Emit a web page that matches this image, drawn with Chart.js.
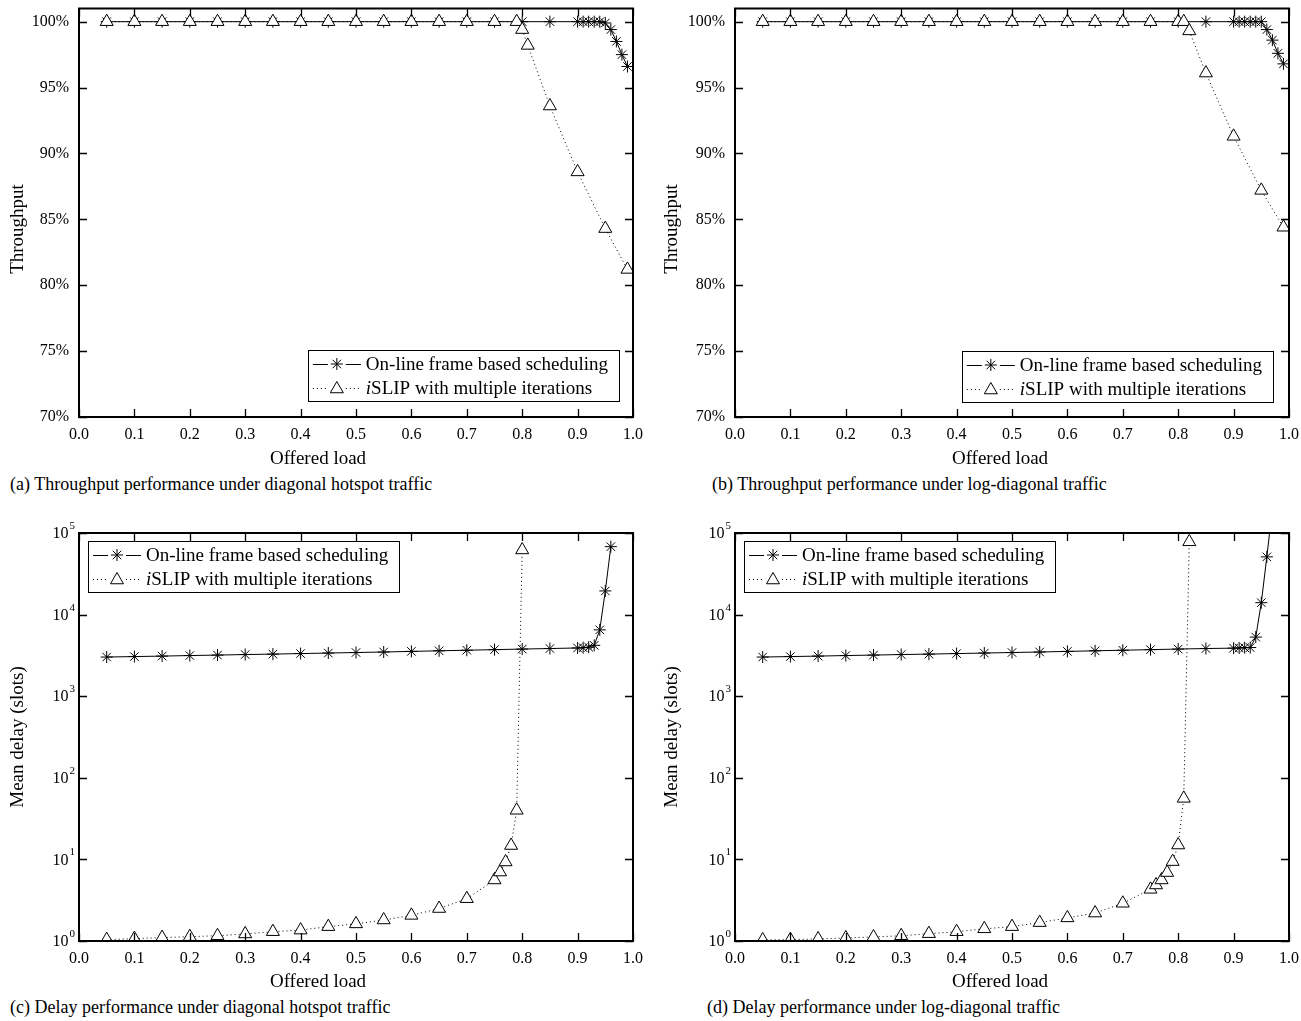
<!DOCTYPE html>
<html>
<head>
<meta charset="utf-8">
<script src="https://cdn.jsdelivr.net/npm/chart.js@4.4.1/dist/chart.umd.min.js"></script>
<style>
  html, body { margin: 0; padding: 0; background: #fff; }
  body { position: relative; width: 1301px; height: 1021px; overflow: hidden;
         font-family: "Liberation Serif", "Times New Roman", serif; color: #000; }
  canvas { position: absolute; }
  .cap { position: absolute; font-size: 18px; line-height: 22px; white-space: nowrap; }
</style>
</head>
<body>
<canvas id="pa" width="650" height="470" style="left:0;top:0"></canvas>
<canvas id="pb" width="645" height="470" style="left:656px;top:0"></canvas>
<canvas id="pc" width="650" height="494" style="left:0;top:500px"></canvas>
<canvas id="pd" width="645" height="494" style="left:656px;top:500px"></canvas>
<div class="cap" style="left:10px;top:473px">(a) Throughput performance under diagonal hotspot traffic</div>
<div class="cap" style="left:712px;top:473px">(b) Throughput performance under log-diagonal traffic</div>
<div class="cap" style="left:10px;top:996px">(c) Delay performance under diagonal hotspot traffic</div>
<div class="cap" style="left:707px;top:996px">(d) Delay performance under log-diagonal traffic</div>
<script>
// ---- offered load (x) values per series ----
const loadFrameThr = [0.05, 0.1, 0.15, 0.2, 0.25, 0.3, 0.35, 0.4, 0.45, 0.5, 0.55, 0.6, 0.65, 0.7, 0.75, 0.8, 0.85, 0.9,
                      0.91, 0.92, 0.93, 0.94, 0.95, 0.96, 0.97, 0.98, 0.99];
const loadSlipThrDiag = [0.05, 0.1, 0.15, 0.2, 0.25, 0.3, 0.35, 0.4, 0.45, 0.5, 0.55, 0.6, 0.65, 0.7, 0.75,
                         0.79, 0.8, 0.81, 0.85, 0.9, 0.95, 0.99];
const loadSlipThrLog = [0.05, 0.1, 0.15, 0.2, 0.25, 0.3, 0.35, 0.4, 0.45, 0.5, 0.55, 0.6, 0.65, 0.7, 0.75,
                        0.8, 0.81, 0.82, 0.85, 0.9, 0.95, 0.99];
const loadFrameDelayDiag = [0.05, 0.1, 0.15, 0.2, 0.25, 0.3, 0.35, 0.4, 0.45, 0.5, 0.55, 0.6, 0.65, 0.7, 0.75, 0.8, 0.85, 0.9,
                            0.91, 0.92, 0.93, 0.94, 0.95, 0.96];
const loadFrameDelayLog = [0.05, 0.1, 0.15, 0.2, 0.25, 0.3, 0.35, 0.4, 0.45, 0.5, 0.55, 0.6, 0.65, 0.7, 0.75, 0.8, 0.85, 0.9,
                           0.91, 0.92, 0.93, 0.94, 0.95, 0.96, 0.97];
const loadSlipDelayDiag = [0.05, 0.1, 0.15, 0.2, 0.25, 0.3, 0.35, 0.4, 0.45, 0.5, 0.55, 0.6, 0.65, 0.7, 0.75,
                           0.76, 0.77, 0.78, 0.79, 0.8];
const loadSlipDelayLog = [0.05, 0.1, 0.15, 0.2, 0.25, 0.3, 0.35, 0.4, 0.45, 0.5, 0.55, 0.6, 0.65, 0.7, 0.75,
                          0.76, 0.77, 0.78, 0.79, 0.8, 0.81, 0.82];

// ---- throughput (%) ----
const thrFrameDiag = [100, 100, 100, 100, 100, 100, 100, 100, 100, 100, 100, 100, 100, 100, 100, 100, 100, 100,
                      100, 100, 100, 100, 99.9, 99.4, 98.5, 97.5, 96.6];
const thrSlipDiag = [100, 100, 100, 100, 100, 100, 100, 100, 100, 100, 100, 100, 100, 100, 100,
                     100, 99.4, 98.2, 93.6, 88.6, 84.3, 81.2];
const thrFrameLog = [100, 100, 100, 100, 100, 100, 100, 100, 100, 100, 100, 100, 100, 100, 100, 100, 100, 100,
                     100, 100, 100, 100, 100, 99.4, 98.6, 97.6, 96.8];
const thrSlipLog = [100, 100, 100, 100, 100, 100, 100, 100, 100, 100, 100, 100, 100, 100, 100,
                    100, 100, 99.3, 96.1, 91.3, 87.2, 84.4];

// ---- mean delay (slots) ----
const delayFrameDiag = [3020, 3060, 3100, 3150, 3190, 3240, 3280, 3330, 3380, 3430, 3480, 3540, 3600, 3660, 3720, 3780, 3840, 3900,
                        3930, 3980, 4200, 6500, 19500, 68000];
const delaySlipDiag = [1.04, 1.07, 1.10, 1.13, 1.16, 1.22, 1.30, 1.36, 1.50, 1.62, 1.81, 2.06, 2.50, 3.3, 5.6,
                       7.0, 9.3, 14.8, 40, 62000];
const delayFrameLog = [3020, 3060, 3100, 3150, 3190, 3240, 3280, 3330, 3380, 3430, 3480, 3540, 3600, 3660, 3720, 3780, 3840, 3880,
                       3900, 3930, 3950, 5300, 14000, 51000, 200000];
const delaySlipLog = [1.03, 1.04, 1.06, 1.09, 1.12, 1.16, 1.23, 1.30, 1.41, 1.50, 1.68, 1.92, 2.20, 2.90, 4.3,
                      4.86, 5.6, 6.9, 9.4, 15.0, 56, 78000];

// ---- axis ticks and labels ----
const loadTicks = [0, 0.1, 0.2, 0.3, 0.4, 0.5, 0.6, 0.7, 0.8, 0.9, 1.0];
const throughputTicks = [70, 75, 80, 85, 90, 95, 100];
const delayTicks = [1, 10, 100, 1000, 10000, 100000];
const delayExponents = ['0', '1', '2', '3', '4', '5'];
const seriesLabels = [
  { lead: '', rest: 'On-line frame based scheduling' },
  { lead: 'i', rest: 'SLIP with multiple iterations' }
];

const SERIF = '"Liberation Serif", "Times New Roman", serif';
const pts = (xs, ys) => xs.map((x, i) => ({ x: x, y: ys[i] }));

// Boxed frame, inward ticks on all four sides, axis titles, log tick labels and the legend box.
const framePlugin = {
  id: 'frame',
  afterDraw(chart, args, opts) {
    const ctx = chart.ctx;
    const { left, right, top, bottom } = chart.chartArea;
    const xs = chart.scales.x, ys = chart.scales.y;
    ctx.save();
    ctx.strokeStyle = '#000';
    ctx.lineWidth = 1.3;
    const T = 8;
    ctx.beginPath();
    xs.ticks.forEach(t => {
      const px = Math.round(xs.getPixelForValue(t.value)) + 0.5;
      ctx.moveTo(px, bottom); ctx.lineTo(px, bottom - T);
      ctx.moveTo(px, top); ctx.lineTo(px, top + T);
    });
    ys.ticks.forEach(t => {
      const py = Math.round(ys.getPixelForValue(t.value)) + 0.5;
      ctx.moveTo(left, py); ctx.lineTo(left + T, py);
      ctx.moveTo(right, py); ctx.lineTo(right - T, py);
    });
    ctx.stroke();
    ctx.lineWidth = 2;
    ctx.strokeRect(left, top, right - left, bottom - top);

    // axis titles
    ctx.fillStyle = '#000';
    ctx.font = '19px ' + SERIF;
    ctx.textAlign = 'center';
    ctx.textBaseline = 'middle';
    ctx.fillText(opts.xTitle.text, opts.xTitle.cx, opts.xTitle.cy);
    ctx.save();
    ctx.translate(opts.yTitle.cx, opts.yTitle.cy);
    ctx.rotate(-Math.PI / 2);
    ctx.fillText(opts.yTitle.text, 0, 0);
    ctx.restore();

    // powers of ten on the logarithmic axis
    if (opts.powerLabels) {
      ys.ticks.forEach((t, i) => {
        const py = ys.getPixelForValue(t.value);
        const exp = delayExponents[i];
        ctx.font = '11px ' + SERIF;
        ctx.textAlign = 'right';
        ctx.textBaseline = 'alphabetic';
        const ew = ctx.measureText(exp).width;
        ctx.fillText(exp, left - 4, py - 4);
        ctx.font = '16px ' + SERIF;
        ctx.textBaseline = 'middle';
        ctx.fillText('10', left - 5 - ew, py + 1);
      });
    }

    // legend box
    const L = opts.legend;
    if (L) {
      const fs = 19;
      const regular = fs + 'px ' + SERIF, italic = 'italic ' + fs + 'px ' + SERIF;
      const widths = seriesLabels.map(s => {
        ctx.font = italic; const a = ctx.measureText(s.lead).width;
        ctx.font = regular; return a + ctx.measureText(s.rest).width;
      });
      const w = 5 + 48 + 5 + Math.max(...widths) + 11;
      const h = 51;
      const x0 = L.corner === 'br' ? right - L.dx - w : left + L.dx;
      const y0 = L.corner === 'br' ? bottom - L.dy - h : top + L.dy;
      ctx.fillStyle = '#fff';
      ctx.fillRect(x0, y0, w, h);
      ctx.lineWidth = 1;
      ctx.strokeStyle = '#000';
      ctx.strokeRect(Math.round(x0) + 0.5, Math.round(y0) + 0.5, Math.round(w), h);
      const rows = [y0 + 14, y0 + 38];
      const styles = [
        { dash: [], point: 'star', radius: 6 },
        { dash: [1, 3], point: 'triangle', radius: 7.5 }
      ];
      rows.forEach((ry, i) => {
        const st = styles[i];
        const yy = Math.round(ry) + 0.5;
        ctx.setLineDash(st.dash);
        ctx.lineWidth = 1;
        ctx.beginPath();
        ctx.moveTo(x0 + 5, yy); ctx.lineTo(x0 + 20, yy);
        ctx.moveTo(x0 + 38, yy); ctx.lineTo(x0 + 53, yy);
        ctx.stroke();
        ctx.setLineDash([]);
        ctx.fillStyle = '#fff';
        Chart.helpers.drawPoint(ctx, { pointStyle: st.point, radius: st.radius, rotation: 0, borderWidth: 1 },
                                x0 + 29, ry + (st.point === 'triangle' ? 1 : 0));
        ctx.fillStyle = '#000';
        ctx.textAlign = 'left';
        ctx.textBaseline = 'middle';
        let tx = x0 + 58;
        const s = seriesLabels[i];
        if (s.lead) {
          ctx.font = italic; ctx.fillText(s.lead, tx, ry + 1);
          tx += ctx.measureText(s.lead).width;
        }
        ctx.font = regular; ctx.fillText(s.rest, tx, ry + 1);
      });
    }
    ctx.restore();
  }
};

function fixedAxis(size, key) {
  return function (scale) {
    scale[key] = size;
    scale.paddingLeft = 0; scale.paddingRight = 0;
    scale.paddingTop = 0; scale.paddingBottom = 0;
  };
}

function makeChart(id, cfg) {
  const datasets = [
    {
      data: pts(cfg.frameX, cfg.frameY), order: 1,
      borderColor: '#000', borderWidth: 1, tension: 0,
      pointStyle: 'star', pointRadius: 6, pointBorderWidth: 1,
      pointBorderColor: '#000', pointBackgroundColor: 'rgba(0,0,0,0)'
    },
    {
      data: pts(cfg.slipX, cfg.slipY), order: 0,
      borderColor: '#000', borderWidth: 1, borderDash: [1, 3], tension: 0,
      pointStyle: 'triangle', pointRadius: 7.5, pointBorderWidth: 1,
      pointBorderColor: '#000', pointBackgroundColor: '#fff'
    }
  ];
  const yAxis = cfg.log ? {
    type: 'logarithmic', min: 1, max: 100000,
    afterBuildTicks: s => { s.ticks = delayTicks.map(v => ({ value: v })); },
    ticks: { display: false },
  } : {
    type: 'linear', min: 70, max: 101,
    afterBuildTicks: s => { s.ticks = throughputTicks.map(v => ({ value: v })); },
    ticks: { display: true, color: '#000', padding: 10, font: { family: SERIF, size: 16 },
             callback: v => v + '%' },
  };
  Object.assign(yAxis, {
    position: 'left',
    grid: { display: false, drawTicks: false },
    border: { display: false },
    title: { display: false },
    afterFit: fixedAxis(79, 'width')
  });
  return new Chart(document.getElementById(id), {
    type: 'line',
    data: { datasets },
    options: {
      responsive: false, animation: false, devicePixelRatio: 1,
      layout: { padding: cfg.padding },
      plugins: {
        legend: { display: false }, tooltip: { enabled: false },
        frame: { legend: cfg.legend, powerLabels: cfg.log, xTitle: cfg.xTitle, yTitle: cfg.yTitle }
      },
      scales: {
        x: {
          type: 'linear', min: 0, max: 1,
          afterBuildTicks: s => { s.ticks = loadTicks.map(v => ({ value: v })); },
          grid: { display: false, drawTicks: false },
          border: { display: false },
          ticks: { color: '#000', padding: 8, autoSkip: false, maxRotation: 0,
                   font: { family: SERIF, size: 16 }, callback: v => Number(v).toFixed(1) },
          title: { display: false },
          afterFit: fixedAxis(53, 'height')
        },
        y: yAxis
      }
    },
    plugins: [framePlugin]
  });
}

makeChart('pa', {
  frameX: loadFrameThr, frameY: thrFrameDiag, slipX: loadSlipThrDiag, slipY: thrSlipDiag,
  log: false,
  xTitle: { text: 'Offered load', cx: 318, cy: 459 },
  yTitle: { text: 'Throughput', cx: 18, cy: 229 },
  padding: { top: 8, right: 17, left: 0, bottom: 0 },
  legend: { corner: 'br', dx: 14, dy: 16 }
});
makeChart('pb', {
  frameX: loadFrameThr, frameY: thrFrameLog, slipX: loadSlipThrLog, slipY: thrSlipLog,
  log: false,
  xTitle: { text: 'Offered load', cx: 344, cy: 459 },
  yTitle: { text: 'Throughput', cx: 16, cy: 229 },
  padding: { top: 8, right: 12, left: 0, bottom: 0 },
  legend: { corner: 'br', dx: 16, dy: 15 }
});
makeChart('pc', {
  frameX: loadFrameDelayDiag, frameY: delayFrameDiag, slipX: loadSlipDelayDiag, slipY: delaySlipDiag,
  log: true,
  xTitle: { text: 'Offered load', cx: 318, cy: 482 },
  yTitle: { text: 'Mean delay (slots)', cx: 18, cy: 237 },
  padding: { top: 33, right: 17, left: 0, bottom: 0 },
  legend: { corner: 'tl', dx: 9, dy: 8 }
});
makeChart('pd', {
  frameX: loadFrameDelayLog, frameY: delayFrameLog, slipX: loadSlipDelayLog, slipY: delaySlipLog,
  log: true,
  xTitle: { text: 'Offered load', cx: 344, cy: 482 },
  yTitle: { text: 'Mean delay (slots)', cx: 16, cy: 237 },
  padding: { top: 33, right: 12, left: 0, bottom: 0 },
  legend: { corner: 'tl', dx: 9, dy: 8 }
});
</script>
</body>
</html>
